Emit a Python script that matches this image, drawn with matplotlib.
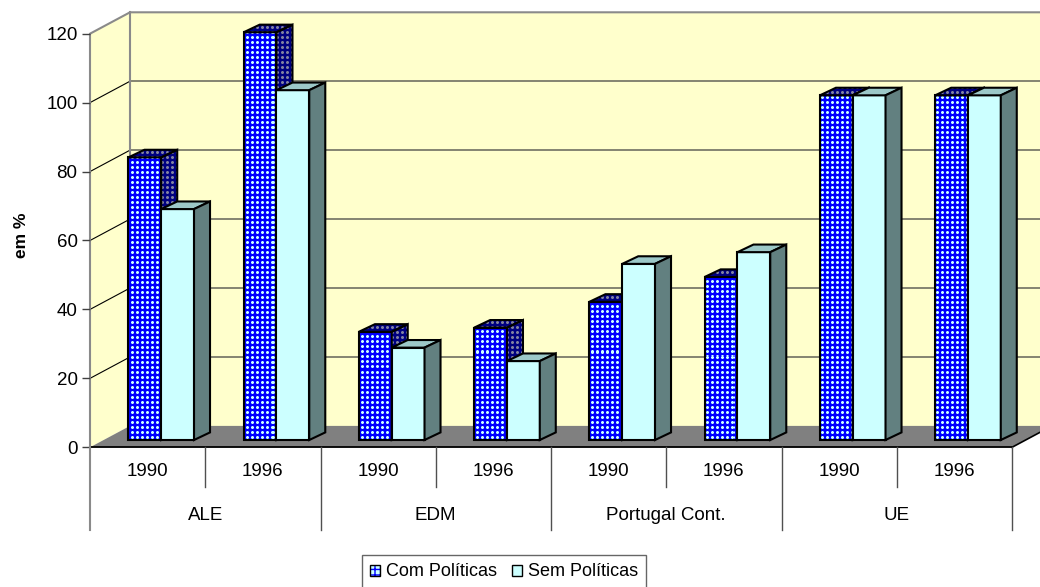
import numpy as np
import matplotlib
matplotlib.use("Agg")
import matplotlib.pyplot as plt
import matplotlib.transforms as mtransforms
from matplotlib.patches import Polygon, Patch
from matplotlib.legend_handler import HandlerTuple

plt.rcParams["font.family"] = ["Liberation Sans", "DejaVu Sans"]

# ---------------------------------------------------------------- data
groups = ["ALE", "EDM", "Portugal Cont.", "UE"]
years = ["1990", "1996"]
series_names = ["Com Políticas", "Sem Políticas"]
com_politicas = [82, 118.3, 31.4, 32.6, 40.1, 47.3, 100, 100]
sem_politicas = [67, 101.5, 26.8, 22.9, 51.1, 54.5, 100, 100]
y_ticks = [0, 20, 40, 60, 80, 100, 120]

# ---------------------------------------------------------------- figure
W, H = 1040, 587
fig = plt.figure(figsize=(W / 100, H / 100), dpi=100)

left_px, right_px, top_px, bot_px = 90, 1012, 33.7, 447.3
ax = fig.add_axes([left_px / W, 1 - bot_px / H,
                   (right_px - left_px) / W, (bot_px - top_px) / H])
n = len(com_politicas)
ymax = y_ticks[-1]
ax.set_xlim(0, n)
ax.set_ylim(0, ymax)
ax.set_autoscale_on(False)

px_x = (right_px - left_px) / n      # pixels per category slot
px_y = (bot_px - top_px) / ymax      # pixels per value unit

# oblique depth vectors (data units)
wall_dx, wall_dy = 40 / px_x, 21.4 / px_y
bar_off_x, bar_off_y = 13.6 / px_x, 7.3 / px_y
bar_dx, bar_dy = 16 / px_x, 7.6 / px_y
bar_w = 32.8 / px_x

WALL = "#FFFFCC"
FLOOR = "#808080"
EDGE_GRAY = "#8a8a8a"

# ---------------------------------------------------------------- walls & floor
left_wall = Polygon([(0, 0), (wall_dx, wall_dy), (wall_dx, ymax + wall_dy), (0, ymax)],
                    closed=True, facecolor=WALL, edgecolor="none", zorder=0.2, clip_on=False)
back_wall = Polygon([(wall_dx, wall_dy), (n + wall_dx, wall_dy),
                     (n + wall_dx, ymax + wall_dy), (wall_dx, ymax + wall_dy)],
                    closed=True, facecolor=WALL, edgecolor="none", zorder=0.2, clip_on=False)
floor = Polygon([(0, 0), (n, 0), (n + wall_dx, wall_dy), (wall_dx, wall_dy)],
                closed=True, facecolor=FLOOR, edgecolor="none", zorder=0.3, clip_on=False)
for p in (left_wall, back_wall, floor):
    ax.add_patch(p)

for v in y_ticks[1:-1]:
    ax.plot([wall_dx, n + wall_dx], [v + wall_dy, v + wall_dy], color="#6f6f62",
            lw=1.2, zorder=0.5, clip_on=False)
    ax.plot([0, wall_dx], [v, v + wall_dy], color="black", lw=0.8, zorder=0.5, clip_on=False)

# wall outlines
ax.plot([0, wall_dx, n + wall_dx], [ymax, ymax + wall_dy, ymax + wall_dy],
        color=EDGE_GRAY, lw=1.5, zorder=0.6, clip_on=False, solid_capstyle="butt")
ax.plot([wall_dx, wall_dx], [wall_dy, ymax + wall_dy], color=EDGE_GRAY, lw=1.5,
        zorder=0.6, clip_on=False)
ax.plot([n, n + wall_dx], [0, wall_dy], color="black", lw=1.2, zorder=0.6, clip_on=False)

# ---------------------------------------------------------------- dotted textures
def dot_texture(bg, dot, mid):
    tile = np.array([[0, 0, 0, 0, 0],
                     [0, 1, 2, 1, 0],
                     [0, 2, 2, 2, 0],
                     [0, 1, 2, 1, 0],
                     [0, 0, 0, 0, 0]])
    pal = np.array([bg, mid, dot], dtype=float) / 255.0
    rgb = pal[tile]
    reps = (H // 5 + 2, W // 5 + 2, 1)
    return np.tile(rgb, reps)[:H, :W]

tex_front = dot_texture((0, 0, 255), (204, 255, 255), (105, 135, 255))
tex_dark = dot_texture((0, 0, 128), (128, 130, 160), (70, 70, 145))

inv = ax.transData.inverted()
(fx0, fy0) = inv.transform((0, 0))
(fx1, fy1) = inv.transform((W, H))
fig_extent = (fx0, fx1, fy0, fy1)


def textured(patch, tex, z):
    im = ax.imshow(tex, extent=fig_extent, origin="upper", interpolation="nearest",
                   aspect="auto", zorder=z)
    # let the texture reach outside the axes box, then cut it to the face
    im.set_clip_box(fig.bbox)
    im.set_clip_path(patch)
    return im


# ---------------------------------------------------------------- bars
EDGE_LW = 1.5
x_centers = np.arange(n) + 0.5
for k in range(n):
    z = 2 + k
    for s, (vals, left) in enumerate(((com_politicas, x_centers[k] - bar_w + bar_off_x),
                                      (sem_politicas, x_centers[k] + bar_off_x))):
        v = vals[k]
        zz = z + 0.4 * s
        if s == 0:
            front = ax.bar(left, v, width=bar_w, bottom=bar_off_y, align="edge",
                           facecolor="none", edgecolor="black", linewidth=EDGE_LW,
                           zorder=zz + 0.05, clip_on=False)[0]
            textured(front, tex_front, zz)
        else:
            front = ax.bar(left, v, width=bar_w, bottom=bar_off_y, align="edge",
                           facecolor="#CCFFFF", edgecolor="black", linewidth=EDGE_LW,
                           zorder=zz, clip_on=False)[0]
        x0, x1 = left, left + bar_w
        y0, y1 = bar_off_y, bar_off_y + v
        top = Polygon([(x0, y1), (x1, y1), (x1 + bar_dx, y1 + bar_dy), (x0 + bar_dx, y1 + bar_dy)],
                      closed=True, linewidth=EDGE_LW, edgecolor="black", clip_on=False,
                      joinstyle="miter")
        side = Polygon([(x1, y0), (x1 + bar_dx, y0 + bar_dy), (x1 + bar_dx, y1 + bar_dy), (x1, y1)],
                       closed=True, linewidth=EDGE_LW, edgecolor="black", clip_on=False,
                       joinstyle="miter")
        if s == 0:
            for p in (top, side):
                p.set_facecolor("none")
                p.set_zorder(zz + 0.15)
                ax.add_patch(p)
                textured(p, tex_dark, zz + 0.1)
        else:
            top.set_facecolor("#9CC8C8")
            side.set_facecolor("#628080")
            top.set_zorder(zz + 0.1)
            side.set_zorder(zz + 0.1)
            ax.add_patch(top)
            ax.add_patch(side)

ax.set_xlim(0, n)
ax.set_ylim(0, ymax)

# ---------------------------------------------------------------- axes styling
for name in ("top", "right"):
    ax.spines[name].set_visible(False)
ax.spines["left"].set_color(EDGE_GRAY)
ax.spines["left"].set_linewidth(1.5)
ax.spines["bottom"].set_color("black")
ax.spines["bottom"].set_linewidth(1.3)
ax.spines["left"].set_zorder(1)
ax.spines["bottom"].set_zorder(1)
ax.patch.set_visible(False)

ax.set_yticks(y_ticks)
ax.set_yticklabels([str(t) for t in y_ticks])
ax.tick_params(axis="y", length=6, width=1, color="#404040", labelsize=13.5, pad=3)
ax.set_xticks([])

# two-level category axis
below = mtransforms.blended_transform_factory(ax.transData, fig.transFigure)


def fy(px):
    return 1 - px / H


ax.plot([0, 0], [fy(bot_px), fy(530)], transform=below, color=EDGE_GRAY, lw=1.5, clip_on=False)
for k in range(1, n + 1):
    end = 530 if k % 2 == 0 else 487
    ax.plot([k, k], [fy(bot_px), fy(end)], transform=below, color="#505050", lw=1.0,
            clip_on=False)
for k in range(n):
    ax.text(x_centers[k], fy(472), years[k % 2], transform=below, ha="center",
            va="center", fontsize=13.5, color="black")
for g, name in enumerate(groups):
    ax.text(2 * g + 1, fy(515.5), name, transform=below, ha="center", va="center",
            fontsize=13.5, color="black")

fig.text(21 / W, fy(235.5), "em %", rotation=90, fontweight="bold", fontsize=12.5,
         ha="center", va="center")

# ---------------------------------------------------------------- legend
com_fill = Patch(facecolor="#CCFFFF", edgecolor="#0000FF", hatch="+++", linewidth=0)
com_edge = Patch(facecolor="none", edgecolor="black", linewidth=1.0)
sem_patch = Patch(facecolor="#CCFFFF", edgecolor="black", linewidth=1.0)
leg = fig.legend([(com_fill, com_edge), sem_patch], series_names,
                 handler_map={tuple: HandlerTuple(ndivide=1, pad=0)},
                 loc="center", bbox_to_anchor=(504 / W, fy(572)), ncol=2,
                 frameon=True, fancybox=False, edgecolor="#404040", fontsize=13,
                 handlelength=0.55, handleheight=0.55, handletextpad=0.35,
                 columnspacing=0.8, borderpad=0.45, borderaxespad=0)
leg.get_frame().set_linewidth(1.0)

fig.savefig("out.png", dpi=100)
